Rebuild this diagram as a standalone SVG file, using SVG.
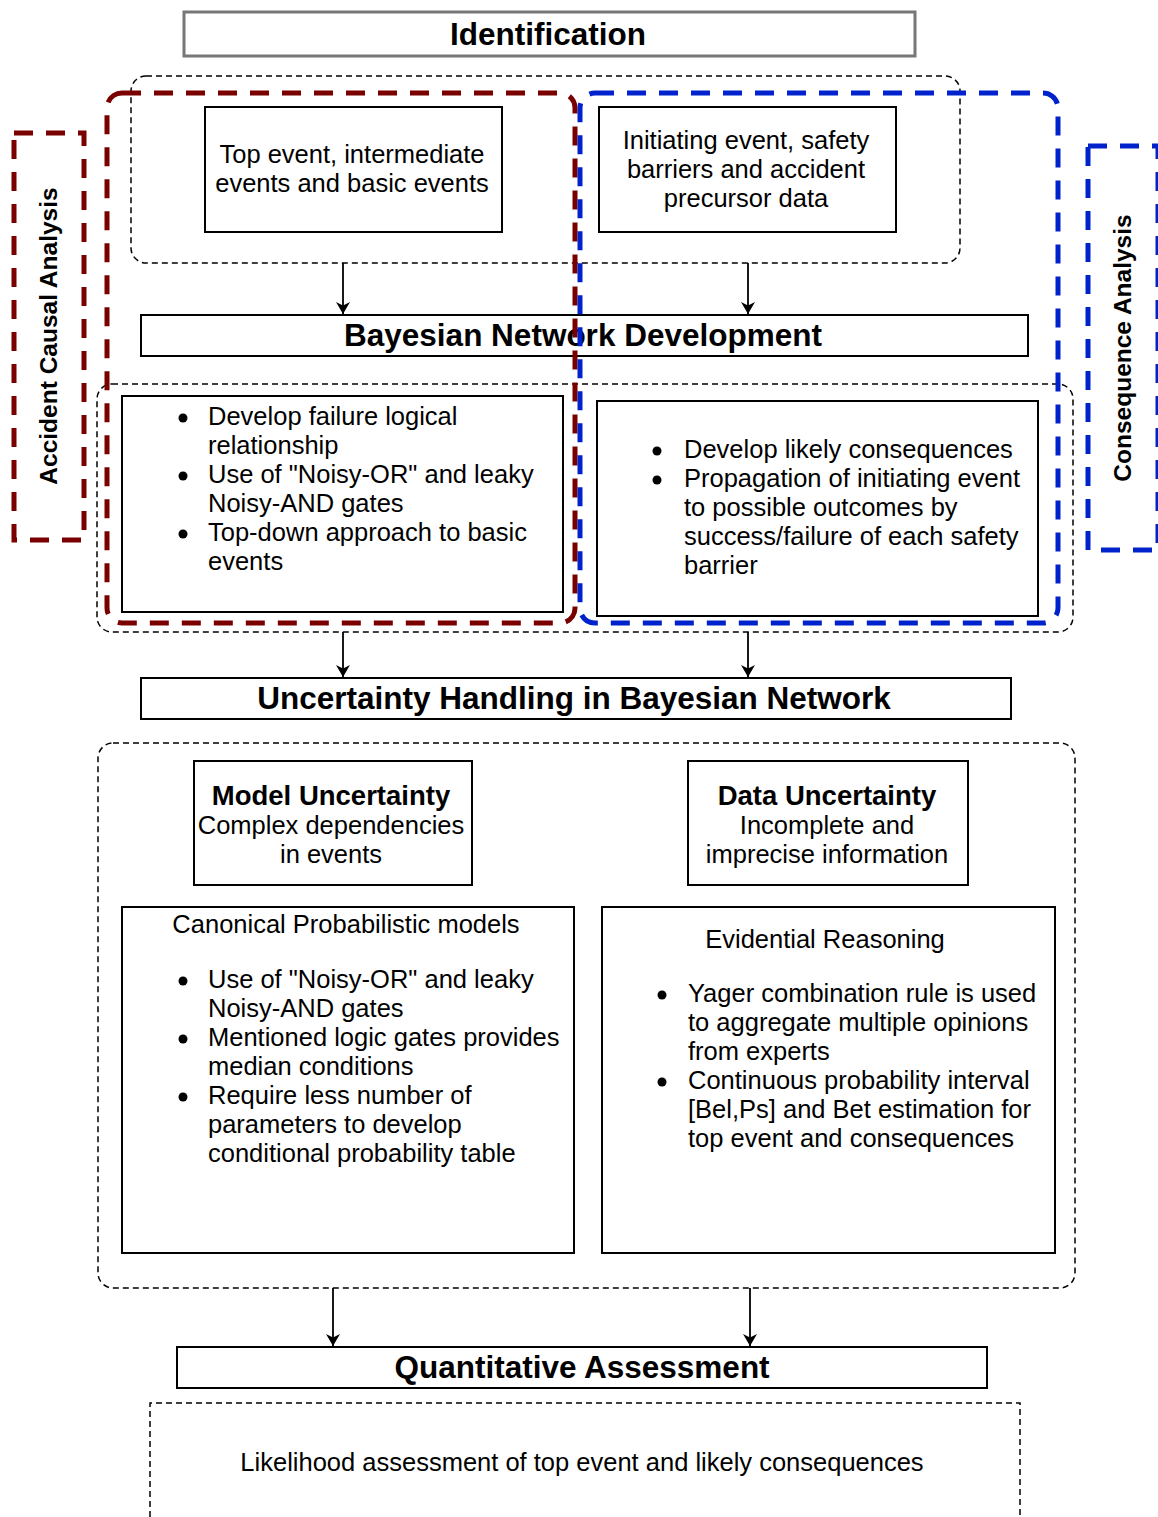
<svg xmlns="http://www.w3.org/2000/svg" width="1158" height="1517" viewBox="0 0 1158 1517">
  <defs>
    <style>
      .bg { fill: #ffffff; }
      .box { fill: #ffffff; stroke: #000000; stroke-width: 2; }
      .hdr { fill: #ffffff; stroke: #000000; stroke-width: 2; }
      .grp { fill: none; stroke: #000000; stroke-width: 1.5; stroke-dasharray: 6 4; }
      .red { fill: none; stroke: #7a0000; stroke-width: 5; stroke-dasharray: 19 13; }
      .blue { fill: none; stroke: #0022cc; stroke-width: 5; stroke-dasharray: 19 13; }
      .conn { fill: none; stroke: #000000; stroke-width: 1.8; }
      text { font-family: "Liberation Sans", Arial, Helvetica, sans-serif; fill: #000000; }
      .t { font-size: 25.5px; }
      .c { text-anchor: middle; }
      .h { font-size: 31.5px; font-weight: bold; text-anchor: middle; }
      .b { font-size: 27.5px; font-weight: bold; }
      .v { font-size: 24.5px; font-weight: bold; text-anchor: middle; }
      .dot { fill: #000000; }
    </style>
    <marker id="arrow" viewBox="0 0 12 14" refX="12" refY="7" markerWidth="12" markerHeight="14" markerUnits="userSpaceOnUse" orient="auto">
      <path d="M0,0 L12,7 L0,14 L3.5,7 Z" fill="#000000"/>
    </marker>
  </defs>

  <rect class="bg" x="0" y="0" width="1158" height="1517"/>

  <!-- dotted grouping frames -->
  <g id="frames">
    <rect class="grp" x="131" y="76" width="829" height="187" rx="15"/>
    <rect class="grp" x="97" y="384" width="976" height="248" rx="15"/>
    <rect class="grp" x="98" y="743" width="977" height="545" rx="15"/>
    <path class="grp" d="M150,1517 L150,1403 L1020,1403 L1020,1517"/>
  </g>

  <!-- connectors -->
  <g id="connectors">
    <line class="conn" x1="343" y1="263" x2="343" y2="314" marker-end="url(#arrow)"/>
    <line class="conn" x1="748" y1="263" x2="748" y2="314" marker-end="url(#arrow)"/>
    <line class="conn" x1="343" y1="632" x2="343" y2="677" marker-end="url(#arrow)"/>
    <line class="conn" x1="748" y1="632" x2="748" y2="677" marker-end="url(#arrow)"/>
    <line class="conn" x1="333" y1="1288" x2="333" y2="1346" marker-end="url(#arrow)"/>
    <line class="conn" x1="750" y1="1288" x2="750" y2="1346" marker-end="url(#arrow)"/>
  </g>

  <g id="identification">
    <rect x="184" y="12" width="731" height="44" fill="#ffffff" stroke="#777777" stroke-width="3"/>
    <text class="h" x="548" y="45">Identification</text>
  </g>

  <g id="fault-inputs">
    <rect class="box" x="205" y="107" width="297" height="125"/>
    <text class="t c" x="352" y="163">Top event, intermediate</text>
    <text class="t c" x="352" y="192">events and basic events</text>
  </g>

  <g id="event-inputs">
    <rect class="box" x="599" y="107" width="297" height="125"/>
    <text class="t c" x="746" y="149">Initiating event, safety</text>
    <text class="t c" x="746" y="178">barriers and accident</text>
    <text class="t c" x="746" y="207">precursor data</text>
  </g>

  <g id="bn-development">
    <rect class="hdr" x="141" y="315" width="887" height="41"/>
    <text class="h" x="583" y="346">Bayesian Network Development</text>
  </g>

  <g id="fault-tree-mapping">
    <rect class="box" x="122" y="396" width="441" height="216"/>
    <circle class="dot" cx="183" cy="418" r="4.5"/>
    <circle class="dot" cx="183" cy="476" r="4.5"/>
    <circle class="dot" cx="183" cy="534" r="4.5"/>
    <text class="t" x="208" y="425">Develop failure logical</text>
    <text class="t" x="208" y="454">relationship</text>
    <text class="t" x="208" y="483">Use of "Noisy-OR" and leaky</text>
    <text class="t" x="208" y="512">Noisy-AND gates</text>
    <text class="t" x="208" y="541">Top-down approach to basic</text>
    <text class="t" x="208" y="570">events</text>
  </g>

  <g id="event-tree-mapping">
    <rect class="box" x="597" y="401" width="441" height="215"/>
    <circle class="dot" cx="657" cy="451" r="4.5"/>
    <circle class="dot" cx="657" cy="480" r="4.5"/>
    <text class="t" x="684" y="458">Develop likely consequences</text>
    <text class="t" x="684" y="487">Propagation of initiating event</text>
    <text class="t" x="684" y="516">to possible outcomes by</text>
    <text class="t" x="684" y="545">success/failure of each safety</text>
    <text class="t" x="684" y="574">barrier</text>
  </g>

  <!-- analysis scopes -->
  <g id="causal-scope">
    <rect class="red" x="107" y="93" width="468" height="530" rx="15"/>
  </g>
  <g id="consequence-scope">
    <rect class="blue" x="580" y="93" width="478" height="530" rx="15"/>
  </g>

  <g id="causal-label">
    <rect class="red" x="14" y="133" width="70" height="407"/>
    <text class="v" transform="translate(57,336) rotate(-90)">Accident Causal Analysis</text>
  </g>

  <g id="consequence-label">
    <rect class="blue" x="1088" y="146" width="70" height="404"/>
    <text class="v" transform="translate(1131,348) rotate(-90)">Consequence Analysis</text>
  </g>

  <g id="uncertainty-handling">
    <rect class="hdr" x="141" y="678" width="870" height="41"/>
    <text class="h" x="574" y="709">Uncertainty Handling in Bayesian Network</text>
  </g>

  <g id="model-uncertainty">
    <rect class="box" x="194" y="761" width="278" height="124"/>
    <text class="c b" x="331" y="805">Model Uncertainty</text>
    <text class="t c" x="331" y="834">Complex dependencies</text>
    <text class="t c" x="331" y="863">in events</text>
  </g>

  <g id="data-uncertainty">
    <rect class="box" x="688" y="761" width="280" height="124"/>
    <text class="c b" x="827" y="805">Data Uncertainty</text>
    <text class="t c" x="827" y="834">Incomplete and</text>
    <text class="t c" x="827" y="863">imprecise information</text>
  </g>

  <g id="canonical-models">
    <rect class="box" x="122" y="907" width="452" height="346"/>
    <text class="t c" x="346" y="933">Canonical Probabilistic models</text>
    <circle class="dot" cx="183" cy="981" r="4.5"/>
    <circle class="dot" cx="183" cy="1039" r="4.5"/>
    <circle class="dot" cx="183" cy="1097" r="4.5"/>
    <text class="t" x="208" y="988">Use of "Noisy-OR" and leaky</text>
    <text class="t" x="208" y="1017">Noisy-AND gates</text>
    <text class="t" x="208" y="1046">Mentioned logic gates provides</text>
    <text class="t" x="208" y="1075">median conditions</text>
    <text class="t" x="208" y="1104">Require less number of</text>
    <text class="t" x="208" y="1133">parameters to develop</text>
    <text class="t" x="208" y="1162">conditional probability table</text>
  </g>

  <g id="evidential-reasoning">
    <rect class="box" x="602" y="907" width="453" height="346"/>
    <text class="t c" x="825" y="948">Evidential Reasoning</text>
    <circle class="dot" cx="662" cy="995" r="4.5"/>
    <circle class="dot" cx="662" cy="1082" r="4.5"/>
    <text class="t" x="688" y="1002">Yager combination rule is used</text>
    <text class="t" x="688" y="1031">to aggregate multiple opinions</text>
    <text class="t" x="688" y="1060">from experts</text>
    <text class="t" x="688" y="1089">Continuous probability interval</text>
    <text class="t" x="688" y="1118">[Bel,Ps] and Bet estimation for</text>
    <text class="t" x="688" y="1147">top event and consequences</text>
  </g>

  <g id="quantitative-assessment">
    <rect class="hdr" x="177" y="1347" width="810" height="41"/>
    <text class="h" x="582" y="1378">Quantitative Assessment</text>
  </g>

  <g id="likelihood">
    <text class="t c" x="582" y="1471">Likelihood assessment of top event and likely consequences</text>
  </g>
</svg>
